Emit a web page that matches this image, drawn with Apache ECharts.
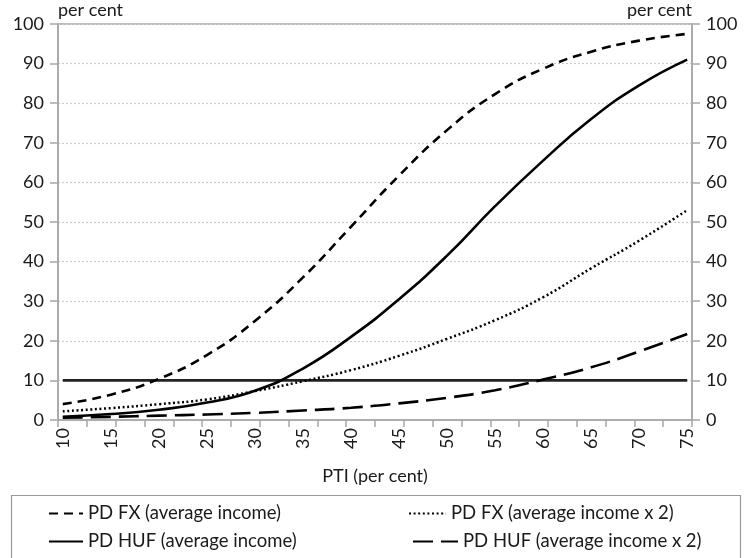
<!DOCTYPE html>
<html>
<head>
<meta charset="utf-8">
<script src="https://cdn.jsdelivr.net/npm/echarts@6/dist/echarts.min.js"></script>
<style>html,body{margin:0;padding:0;background:#fff}#c{width:745px;height:558px}</style>
</head>
<body>
<div id="c"></div>
<script>
// PTI (per cent) at which values were read
const pti = [10, 15, 20, 25, 30, 35, 40, 45, 50, 55, 60, 65, 70, 75];
const pdFxAvg   = [4.0, 6.4, 10.4, 16.4, 25.0, 36.0, 48.8, 61.7, 73.2, 82.3, 88.7, 93.0, 95.8, 97.5];
const pdFxAvg2  = [2.2, 3.0, 4.0, 5.2, 7.3, 9.8, 12.6, 16.2, 20.5, 25.2, 31.0, 38.3, 45.3, 53.0];
const pdHufAvg  = [0.8, 1.5, 2.6, 4.4, 7.4, 13.0, 21.0, 30.5, 41.5, 54.0, 65.5, 76.0, 84.5, 91.0];
const pdHufAvg2 = [0.6, 0.8, 1.1, 1.4, 1.8, 2.4, 3.1, 4.2, 5.6, 7.5, 10.2, 13.3, 17.3, 21.7];
const thresholdX = [10, 75];
const thresholdY = [10, 10];
const xLabels = [10, 15, 20, 25, 30, 35, 40, 45, 50, 55, 60, 65, 70, 75];
const xTicks = [9.5, 12.5, 15.5, 18.5, 21.5, 24.5, 27.5, 30.5, 33.5, 36.5, 39.5, 42.5, 45.5, 48.5, 51.5, 54.5, 57.5, 60.5, 63.5, 66.5, 69.5, 72.5, 75.5];
const names = ['PD FX (average income)', 'PD FX (average income x 2)', 'PD HUF (average income)', 'PD HUF (average income x 2)'];

const FONT = 'Lato';
const TXT = '#1a1a1a';
const AX = '#a6a6a6';
const pair = (xs, ys) => xs.map((x, i) => [x, ys[i]]);

const chart = echarts.init(document.getElementById('c'), null, {renderer: 'canvas'});
const yCommon = {
  type: 'value', min: 0, max: 100, interval: 10,
  axisLine: {show: true, lineStyle: {color: AX, width: 1.5}},
  axisTick: {show: true, inside: false, length: 8, lineStyle: {color: AX, width: 1.5}},
  axisLabel: {color: TXT, fontFamily: FONT, fontSize: 18, margin: 14},
  nameTextStyle: {color: TXT, fontFamily: FONT, fontSize: 18},
  nameGap: 5
};
const legendCommon = {
  itemHeight: 14, itemGap: 4, padding: 0,
  itemStyle: {opacity: 0},
  textStyle: {color: TXT, fontFamily: FONT, fontSize: 18.5},
  selectedMode: false
};
chart.setOption({
  animation: false,
  backgroundColor: '#fff',
  grid: {left: 58, right: 53, top: 24, bottom: 138, show: true, borderColor: AX, borderWidth: 1.5},
  xAxis: {
    type: 'value', min: 9.5, max: 75.5,
    name: 'PTI (per cent)', nameLocation: 'middle', nameGap: 47,
    nameTextStyle: {color: TXT, fontFamily: FONT, fontSize: 18},
    axisLine: {show: true, lineStyle: {color: AX, width: 1.5}},
    axisTick: {show: true, customValues: xTicks, length: 7, lineStyle: {color: AX, width: 1.5}},
    axisLabel: {customValues: xLabels, rotate: 90, color: TXT, fontFamily: FONT, fontSize: 18, margin: 8},
    splitLine: {show: false}
  },
  yAxis: [
    Object.assign({}, yCommon, {position: 'left', name: 'per cent',
      nameTextStyle: Object.assign({}, yCommon.nameTextStyle, {align: 'left'}),
      splitLine: {show: true, lineStyle: {color: '#cccccc', type: [2, 2], width: 1.2}}}),
    Object.assign({}, yCommon, {position: 'right', name: 'per cent',
      nameTextStyle: Object.assign({}, yCommon.nameTextStyle, {align: 'right'}),
      splitLine: {show: false}})
  ],
  legend: [
    Object.assign({}, legendCommon, {data: [names[0]], left: 48, top: 504, itemWidth: 34}),
    Object.assign({}, legendCommon, {data: [names[1]], left: 408, top: 504, itemWidth: 37}),
    Object.assign({}, legendCommon, {data: [names[2]], left: 48, top: 532, itemWidth: 34}),
    Object.assign({}, legendCommon, {data: [names[3]], left: 412, top: 532, itemWidth: 45})
  ],
  graphic: [{
    type: 'rect', left: 9, top: 493, shape: {x: 0, y: 0, width: 729, height: 63},
    style: {fill: 'none', stroke: '#999', lineWidth: 1.2}, silent: true
  }],
  series: [
    {name: 'threshold', type: 'line', data: pair(thresholdX, thresholdY), symbol: 'none',
     lineStyle: {color: '#222', width: 2.8}, silent: true, z: 1},
    {name: names[0], type: 'line', data: pair(pti, pdFxAvg), smooth: true, symbol: 'none',
     itemStyle: {color: '#000'}, lineStyle: {color: '#000', width: 2.6, type: [9, 6]}, z: 3},
    {name: names[1], type: 'line', data: pair(pti, pdFxAvg2), smooth: true, symbol: 'none',
     itemStyle: {color: '#000'}, lineStyle: {color: '#000', width: 2.5, type: [2, 2.6]}, z: 3},
    {name: names[2], type: 'line', data: pair(pti, pdHufAvg), smooth: true, symbol: 'none',
     itemStyle: {color: '#000'}, lineStyle: {color: '#000', width: 2.6, type: 'solid'}, z: 3},
    {name: names[3], type: 'line', data: pair(pti, pdHufAvg2), smooth: true, symbol: 'none',
     itemStyle: {color: '#000'}, lineStyle: {color: '#000', width: 2.6, type: [20, 8]}, z: 3}
  ]
});
</script>
</body>
</html>
